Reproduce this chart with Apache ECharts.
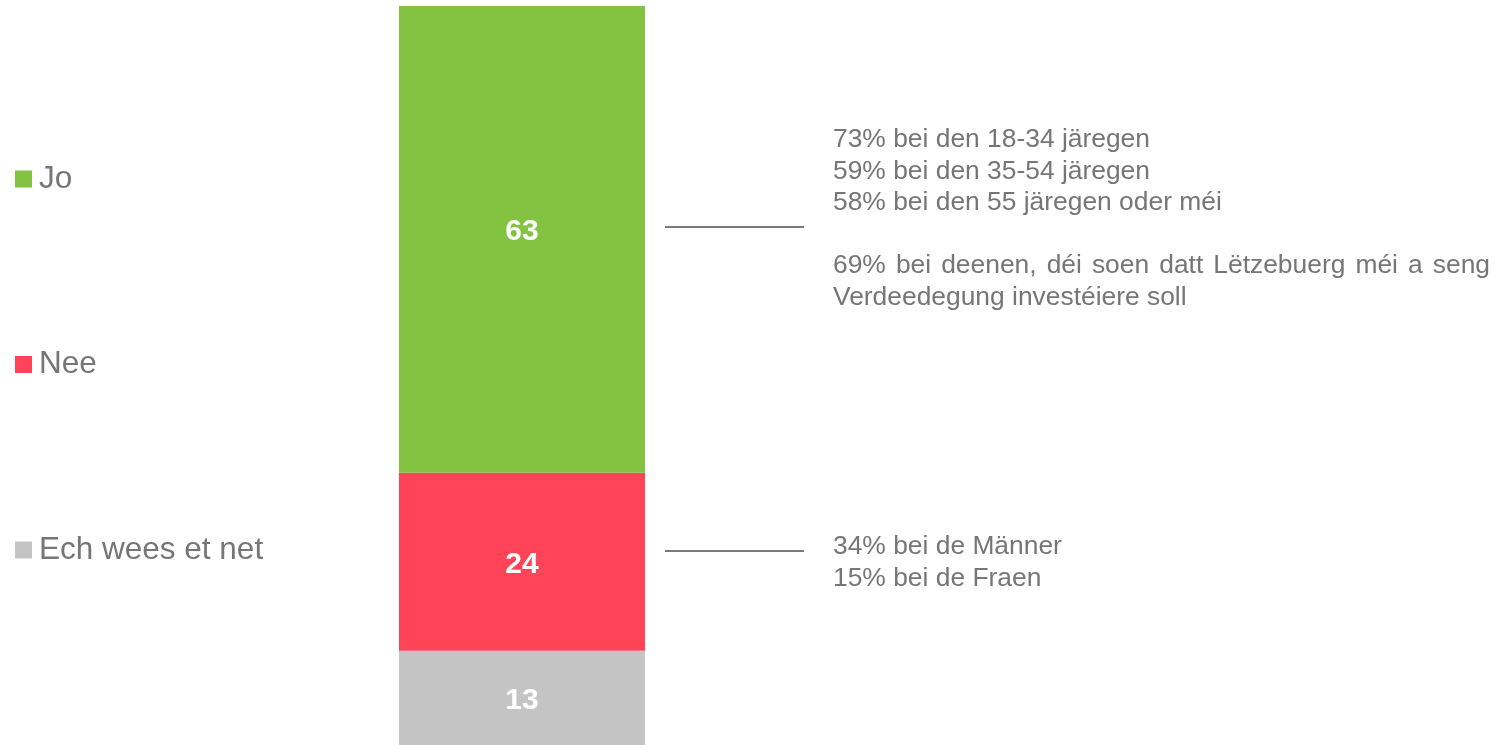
<!DOCTYPE html>
<html>
<head>
<meta charset="utf-8">
<script src="https://cdn.jsdelivr.net/npm/echarts@6/dist/echarts.min.js"></script>
<style>
html,body{margin:0;padding:0;background:#fff;}
#main{width:1496px;height:745px;}
</style>
</head>
<body>
<div id="main"></div>
<script>
var categories = ['Total'];
var seriesNames = ['Jo', 'Nee', 'Ech wees et net'];
var seriesValues = [63, 24, 13];
var seriesColors = ['#84c241', '#ff4359', '#c4c4c4'];
var noteJoTop = ['73% bei den 18-34 järegen', '59% bei den 35-54 järegen', '58% bei den 55 järegen oder méi'];
var noteJoJustified = '69% bei deenen, déi soen datt Lëtzebuerg méi a seng';
var noteJoLast = 'Verdeedegung investéiere soll';
var noteNee = ['34% bei de Männer', '15% bei de Fraen'];

var FONT = "'Liberation Sans', Arial, sans-serif";
var GREY = '#767676';
var NOTE_SIZE = 26.4;
var LH = 31.6;

var chart = echarts.init(document.getElementById('main'));

var series = [];
for (var i = seriesNames.length - 1; i >= 0; i--) {
  series.push({
    name: seriesNames[i],
    type: 'bar',
    stack: 'total',
    barWidth: '100%',
    data: [seriesValues[i]],
    itemStyle: { color: seriesColors[i] },
    label: {
      show: true,
      position: 'inside',
      offset: i === 0 ? [0, -8] : (i === 1 ? [0, 3] : [0, 2]),
      color: '#ffffff',
      fontFamily: FONT,
      fontWeight: 'bold',
      fontSize: 30
    }
  });
}

// justified line: spread words between x0 and x1
var ctx = document.createElement('canvas').getContext('2d');
ctx.font = NOTE_SIZE + 'px ' + FONT;
var words = noteJoJustified.split(' ');
var x0 = 833, x1 = 1490;
var wordsW = 0;
words.forEach(function (w) { wordsW += ctx.measureText(w).width; });
var gap = (x1 - x0 - wordsW) / (words.length - 1);
var justifiedEls = [];
var cx = x0;
var yJ = 124 + 4 * LH;
words.forEach(function (w) {
  justifiedEls.push({ type: 'text', x: cx, y: yJ, style: { text: w, fill: GREY, font: NOTE_SIZE + 'px ' + FONT, lineHeight: LH, verticalAlign: 'top' } });
  cx += ctx.measureText(w).width + gap;
});

var option = {
  animation: false,
  backgroundColor: '#ffffff',
  grid: { left: 399, width: 246, top: 6, height: 741, containLabel: false, outerBoundsMode: 'none' },
  xAxis: { type: 'category', data: categories, show: false },
  yAxis: { type: 'value', min: 0, max: 100, show: false },
  legend: {
    orient: 'vertical',
    left: 15,
    top: 163,
    padding: 0,
    itemWidth: 17,
    itemHeight: 17,
    itemGap: 153.5,
    icon: 'rect',
    data: seriesNames,
    textStyle: { color: GREY, fontSize: 31.5, fontFamily: FONT, padding: [0, 0, 0, 2] }
  },
  series: series,
  graphic: [
    { type: 'line', shape: { x1: 665, y1: 227, x2: 804, y2: 227 }, style: { stroke: '#7a7a7a', lineWidth: 2 } },
    { type: 'line', shape: { x1: 665, y1: 551, x2: 804, y2: 551 }, style: { stroke: '#7a7a7a', lineWidth: 2 } },
    { type: 'text', x: 833, y: 124, style: { text: noteJoTop.join('\n'), fill: GREY, font: NOTE_SIZE + 'px ' + FONT, lineHeight: LH, verticalAlign: 'top' } },
    { type: 'text', x: 833, y: 124 + 5 * LH, style: { text: noteJoLast, fill: GREY, font: NOTE_SIZE + 'px ' + FONT, lineHeight: LH, verticalAlign: 'top' } },
    { type: 'text', x: 833, y: 531, style: { text: noteNee.join('\n'), fill: GREY, font: NOTE_SIZE + 'px ' + FONT, lineHeight: LH, verticalAlign: 'top' } }
  ].concat(justifiedEls)
};
chart.setOption(option);
</script>
</body>
</html>
